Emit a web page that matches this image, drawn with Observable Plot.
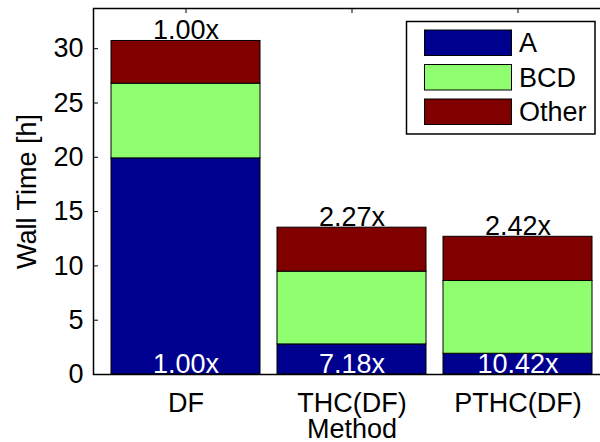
<!DOCTYPE html>
<html>
<head>
<meta charset="utf-8">
<script src="https://cdn.jsdelivr.net/npm/d3@7"></script>
<script src="https://cdn.jsdelivr.net/npm/@observablehq/plot@0.6"></script>
<style>
  html, body { margin: 0; padding: 0; background: #fff; overflow: hidden; }
  #chart { width: 600px; height: 442px; }
</style>
</head>
<body>
<div id="chart"></div>
<script>
// Wall time per method, split into the three phases (hours)
const methods = ["DF", "THC(DF)", "PTHC(DF)"];
const seriesNames = ["A", "BCD", "Other"];
const timeA = [19.9, 2.77, 1.91];
const timeBCD = [6.88, 6.70, 6.70];
const timeOther = [3.93, 4.05, 4.07];
const seriesColors = ["#00008f", "#8fff70", "#800000"];
const yTicks = [0, 5, 10, 15, 20, 25, 30];
const yMax = 33.7;

const seriesValues = [timeA, timeBCD, timeOther];

// Long table for the stacked bars (A at the bottom, Other on top)
const rows = [];
methods.forEach((m, i) => {
  seriesNames.forEach((s, j) => rows.push({method: m, series: s, hours: seriesValues[j][i]}));
});

// Totals and speedups relative to the DF baseline
const totals = methods.map((m, i) => ({
  method: m,
  total: timeA[i] + timeBCD[i] + timeOther[i]
}));
totals.forEach(d => d.speedup = (totals[0].total / d.total).toFixed(2) + "x");
const aSpeedups = methods.map((m, i) => ({
  method: m,
  label: (timeA[0] / timeA[i]).toFixed(2) + "x"
}));

const fontFamily = "'Liberation Sans', Arial, Helvetica, sans-serif";
const fs = 27;
const frameTop = 8, frameBottom = 374, frameLeft = 93;

const svg = Plot.plot({
  width: 600,
  height: 442,
  marginLeft: frameLeft,
  marginRight: 0,
  marginTop: frameTop,
  marginBottom: 442 - frameBottom,
  style: {fontFamily, fontSize: fs + "px", background: "white", color: "black", overflow: "visible"},
  x: {type: "band", domain: methods, range: [93, 609.3], paddingInner: 0.101, paddingOuter: 0.0977, align: 0.5},
  y: {domain: [0, yMax]},
  color: {domain: seriesNames, range: seriesColors},
  marks: [
    Plot.barY(rows, {x: "method", y: "hours", fill: "series", stroke: "black", strokeWidth: 1}),
    Plot.text(totals, {x: "method", y: "total", text: "speedup", lineAnchor: "bottom", dy: -2, fill: "black", fontSize: fs}),
    Plot.text(aSpeedups, {x: "method", y: () => 0, text: "label", lineAnchor: "bottom", dy: -2, fill: "white", fontSize: fs}),
    // inward ticks on the left and top edges
    Plot.ruleY(yTicks, {stroke: "black", strokeWidth: 1, insetRight: 600 - frameLeft - 5}),
    Plot.ruleX(methods, {x: d => d, stroke: "black", strokeWidth: 1, insetBottom: frameBottom - frameTop - 5}),
    Plot.frame({stroke: "black", strokeWidth: 1.5, insetRight: -4}),
    Plot.axisY(yTicks, {tickSize: 0, tickPadding: 10, label: null, fontSize: fs}),
    Plot.axisX({tickSize: 0, tickPadding: 18, label: null, fontSize: fs}),
    Plot.text(["Method"], {frameAnchor: "bottom", textAnchor: "middle", lineAnchor: "bottom", dy: 63.5, dx: 5, fontSize: fs}),
    Plot.text(["Wall Time [h]"], {frameAnchor: "left", textAnchor: "middle", rotate: -90, lineAnchor: "bottom", dx: -58, fontSize: fs})
  ]
});

// Legend box in the upper right corner
const lg = d3.select(svg).append("g")
  .attr("font-family", fontFamily).attr("font-size", fs).attr("text-anchor", "start");
lg.append("rect")
  .attr("x", 406.5).attr("y", 21.5).attr("width", 188.5).attr("height", 112.5)
  .attr("fill", "white").attr("stroke", "black").attr("stroke-width", 1.5);
seriesNames.forEach((name, i) => {
  const y0 = 30 + i * 34.5;
  lg.append("rect")
    .attr("x", 424.5).attr("y", y0).attr("width", 87).attr("height", 25.5)
    .attr("fill", seriesColors[i]).attr("stroke", "black").attr("stroke-width", 1);
  lg.append("text")
    .attr("x", 519).attr("y", y0 + 12.75).attr("dy", "0.35em")
    .attr("fill", "black").text(name);
});

document.getElementById("chart").appendChild(svg);
</script>
</body>
</html>
